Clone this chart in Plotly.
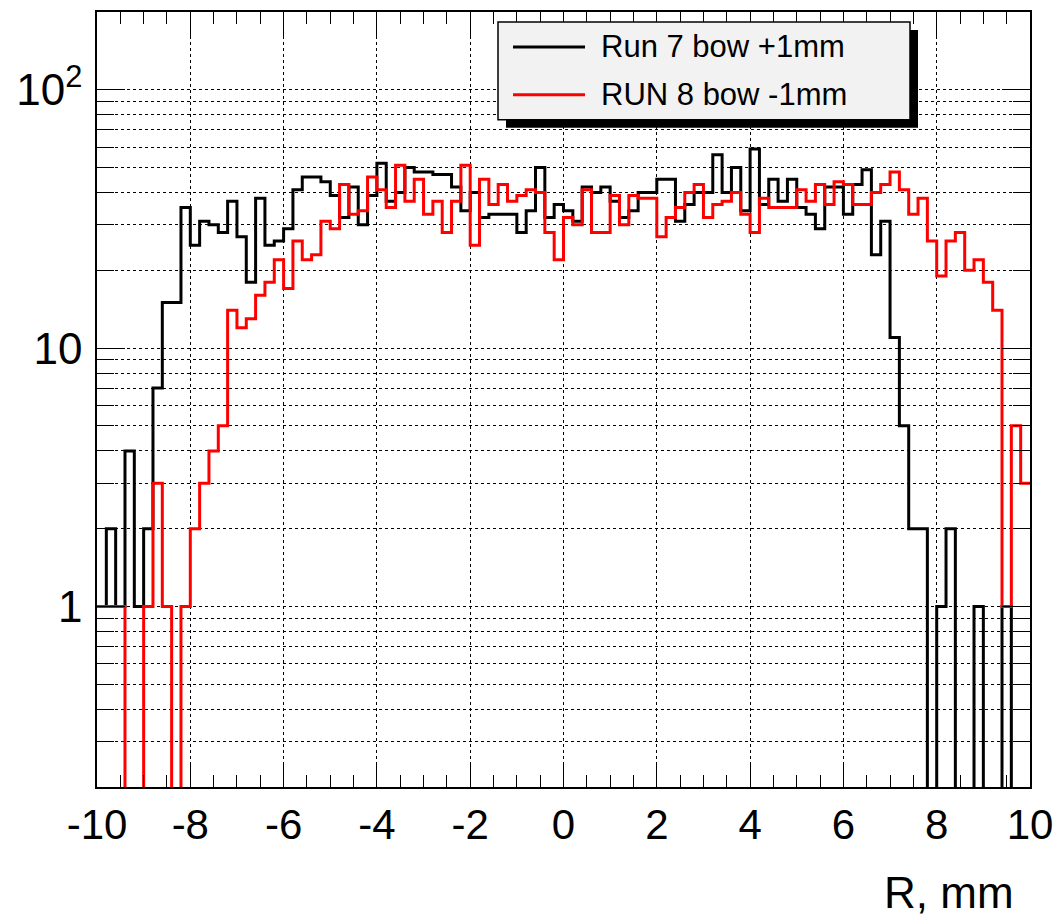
import plotly.graph_objects as go

# ---------------- data ----------------
bin_low = -10.0
bin_width = 0.2

run7_counts = [1, 2, 1, 4, 1, 2, 7, 15, 15, 35,
               25, 31, 30, 28, 37, 27, 18, 38, 25, 26,
               29, 41, 46, 46, 44, 39, 32, 42, 30, 39,
               52, 37, 40, 50, 48, 48, 47, 47, 42, 34,
               40, 32, 33, 33, 33, 28, 34, 50, 32, 36,
               34, 31, 42, 40, 42, 37, 32, 34, 40, 40,
               45, 45, 31, 36, 40, 40, 56, 40, 50, 34,
               59, 36, 45, 37, 45, 35, 33, 29, 42, 42,
               33, 43, 49, 23, 31, 11, 5, 2, 2, 0,
               1, 2, 0, 0, 1, 0, 0, 1, 0, 0]

run8_counts = [1, 1, 1, 0, 0, 1, 3, 1, 0, 1,
               2, 3, 4, 5, 14, 12, 13, 16, 18, 22,
               17, 26, 22, 23, 31, 29, 43, 33, 34, 46,
               41, 35, 51, 37, 45, 33, 37, 28, 37, 51,
               25, 45, 36, 43, 37, 39, 41, 40, 28, 22,
               32, 30, 41, 28, 28, 39, 30, 39, 38, 38,
               27, 32, 35, 40, 43, 32, 36, 37, 40, 33,
               28, 38, 35, 35, 35, 41, 37, 43, 36, 44,
               43, 36, 36, 40, 43, 48, 41, 33, 38, 26,
               19, 26, 28, 20, 22, 18, 14, 1, 5, 3]

series_names = ["Run 7 bow +1mm", "RUN 8 bow -1mm"]
series_colors = ["#000000", "#ff0000"]

x_tick_vals = [-10, -8, -6, -4, -2, 0, 2, 4, 6, 8, 10]
x_tick_text = ["-10", "-8", "-6", "-4", "-2", "0", "2", "4", "6", "8", "10"]
y_tick_vals = [1, 10, 100]
y_tick_text = ["1", "10", "10<sup>2</sup>"]
y_minor_vals = [0.2, 0.3, 0.4, 0.5, 0.6, 0.7, 0.8, 0.9,
                2, 3, 4, 5, 6, 7, 8, 9,
                20, 30, 40, 50, 60, 70, 80, 90, 200]
x_title = "R, mm"

# ---------------- helpers ----------------
FONT = "Liberation Sans, Arial, Helvetica, sans-serif"
OFF = 8                      # page body margin in the browser
W, H = 1062 - OFF, 919 - OFF
PL, PR, PT, PB = 97, 1030, 10, 787   # plot area in page pixels


def px_x(p):
    return (p - PL) / (PR - PL)


def px_y(p):
    return (PB - p) / (PB - PT)


def step_xy(counts):
    n = len(counts)
    xs = [bin_low + i * bin_width for i in range(n + 1)]
    ys = [c if c > 0 else 1e-3 for c in counts]  # empty bins drop below the frame
    ys = ys + [ys[-1]]
    return xs, ys


fig = go.Figure()
for counts, name, color in zip([run7_counts, run8_counts], series_names, series_colors):
    xs, ys = step_xy(counts)
    fig.add_trace(go.Scatter(x=xs, y=ys, mode="lines", name=name,
                             line=dict(color=color, width=3, shape="hv"),
                             showlegend=False))

fig.update_layout(
    width=W, height=H,
    margin=dict(l=PL - OFF, r=W - (PR - OFF), t=PT - OFF, b=H - (PB - OFF), pad=0),
    paper_bgcolor="white", plot_bgcolor="white",
    font=dict(family=FONT, color="black"),
)

fig.update_xaxes(
    range=[-10, 10],
    tickmode="array", tickvals=x_tick_vals, ticktext=x_tick_text,
    ticks="inside", ticklen=24, tickwidth=1.2, tickcolor="black",
    tickfont=dict(size=42, family=FONT, color="black"),
    ticklabelstandoff=0,
    showline=True, linecolor="black", linewidth=1.5, mirror="ticks",
    showgrid=True, gridcolor="black", griddash="dot", gridwidth=1,
    zeroline=False,
    minor=dict(dtick=0.5, tick0=0, ticks="inside", ticklen=12,
               tickwidth=1.2, tickcolor="black", showgrid=False),
)

fig.update_yaxes(
    type="log", range=[-0.69897, 2.30103],
    tickmode="array", tickvals=y_tick_vals, ticktext=y_tick_text,
    ticks="inside", ticklen=28, tickwidth=1.2, tickcolor="black",
    tickfont=dict(size=44, family=FONT, color="black"),
    ticklabelstandoff=4,
    showline=True, linecolor="black", linewidth=1.5, mirror="ticks",
    showgrid=True, gridcolor="black", griddash="dot", gridwidth=1,
    zeroline=False,
    minor=dict(tickmode="array", tickvals=y_minor_vals, ticks="inside",
               ticklen=17, tickwidth=1.2, tickcolor="black",
               showgrid=True, gridcolor="black", griddash="dot", gridwidth=1),
)

# ---------------- legend (ROOT style, drawn by hand) ----------------
lx0, ly0, lx1, ly1 = 498, 20, 910, 118
shadow = 8
fig.add_shape(type="rect", xref="paper", yref="paper",
              x0=px_x(lx0 + shadow), x1=px_x(lx1 + shadow),
              y0=px_y(ly1 + shadow), y1=px_y(ly0 + shadow),
              fillcolor="black", line=dict(width=0), layer="above")
fig.add_shape(type="rect", xref="paper", yref="paper",
              x0=px_x(lx0), x1=px_x(lx1), y0=px_y(ly1), y1=px_y(ly0),
              fillcolor="#f2f2f2", line=dict(color="black", width=1.5), layer="above")
for i, (name, color) in enumerate(zip(series_names, series_colors)):
    yy = 45 + i * 48
    fig.add_shape(type="line", xref="paper", yref="paper",
                  x0=px_x(513), x1=px_x(585), y0=px_y(yy), y1=px_y(yy),
                  line=dict(color=color, width=3), layer="above")
    fig.add_annotation(xref="paper", yref="paper", x=px_x(599), y=px_y(yy),
                       xanchor="left", yanchor="middle", text=name, showarrow=False,
                       font=dict(size=31, family=FONT, color="black"))

# axis title, right-aligned as in ROOT
fig.add_annotation(xref="paper", yref="paper", x=px_x(1016), y=px_y(893),
                   xanchor="right", yanchor="middle", text=x_title, showarrow=False,
                   font=dict(size=44, family=FONT, color="black"))

fig.write_html("out.html")
